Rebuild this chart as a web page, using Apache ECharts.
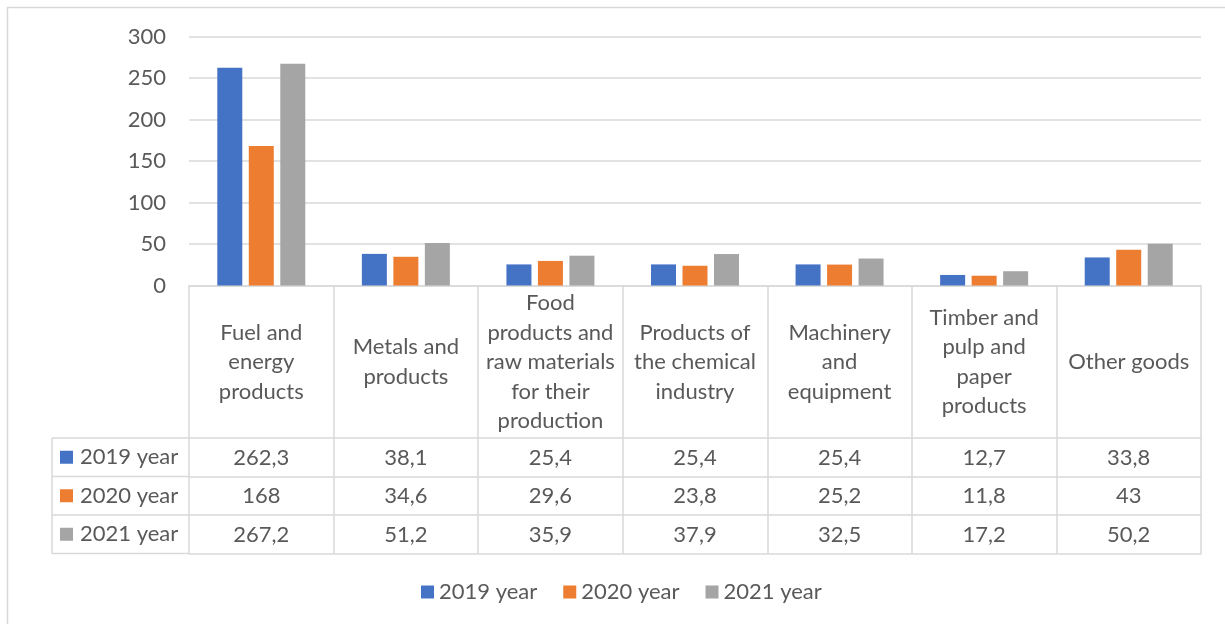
<!DOCTYPE html>
<html>
<head>
<meta charset="utf-8">
<script src="https://cdn.jsdelivr.net/npm/echarts@6/dist/echarts.min.js"></script>
<style>html,body{margin:0;padding:0;background:#fff;}#c{width:1225px;height:624px;}</style>
</head>
<body>
<div id="c"></div>
<script>
const categories = [
  'Fuel and\nenergy\nproducts',
  'Metals and\nproducts',
  'Food\nproducts and\nraw materials\nfor their\nproduction',
  'Products of\nthe chemical\nindustry',
  'Machinery\nand\nequipment',
  'Timber and\npulp and\npaper\nproducts',
  'Other goods'
];
const seriesNames = ['2019 year', '2020 year', '2021 year'];
const values2019 = [262.3, 38.1, 25.4, 25.4, 25.4, 12.7, 33.8];
const values2020 = [168, 34.6, 29.6, 23.8, 25.2, 11.8, 43];
const values2021 = [267.2, 51.2, 35.9, 37.9, 32.5, 17.2, 50.2];
const yTicks = { min: 0, max: 300, interval: 50 };

const colors = ['#4472C4', '#ED7D31', '#A5A5A5'];
const rows = [values2019, values2020, values2021];
const FONT = 'Lato';
const TXT = '#595959';
const LINE = '#d9d9d9';
const LW = 1.5;
const FS = 22;

// layout
const plotLeft = 189, plotRight = 1201, plotTop = 36.5, plotBottom = 285.5;
const rowTops = [438, 476.5, 515];
const tableBottom = 553.5;
const tableLeft = 52;
const fmt = v => String(v).replace('.', ',');

const grids = [{ left: plotLeft, right: 1225 - plotRight, top: plotTop, height: plotBottom - plotTop }];
const xAxes = [{
  type: 'category', data: categories, gridIndex: 0,
  axisLine: { lineStyle: { color: LINE, width: LW } },
  axisTick: { show: true, interval: 0, length: tableBottom - plotBottom, lineStyle: { color: LINE, width: LW } },
  axisLabel: { interval: 0, margin: 76.5, verticalAlign: 'middle', lineHeight: 29.5, fontSize: FS, color: TXT, fontFamily: FONT }
}];
const yAxes = [{
  type: 'value', gridIndex: 0, min: yTicks.min, max: yTicks.max, interval: yTicks.interval,
  axisLine: { show: false }, axisTick: { show: false },
  splitLine: { lineStyle: { color: LINE, width: LW } },
  axisLabel: { margin: 23, fontSize: FS, color: TXT, fontFamily: FONT }
}];
const lineYs = rowTops.concat([tableBottom]);
lineYs.forEach((y, k) => {
  grids.push({ left: plotLeft, right: 1225 - plotRight, top: y - 5, height: 5 });
  xAxes.push({
    type: 'category', data: categories, gridIndex: k + 1,
    axisLine: { lineStyle: { color: LINE, width: LW } },
    axisTick: { show: false },
    axisLabel: k < 3 ? {
      interval: 0, margin: 19.5, verticalAlign: 'middle', fontSize: FS, color: TXT, fontFamily: FONT,
      formatter: (v, i) => fmt(rows[k][i])
    } : { show: false }
  });
  yAxes.push({ type: 'value', gridIndex: k + 1, show: false });
});

const graphics = [];
// outer chart border (top and left visible)
graphics.push({ type: 'polyline', shape: { points: [[1225, 7.5], [7.5, 7.5], [7.5, 624]] }, style: { stroke: LINE, lineWidth: LW, fill: null }, silent: true });
// left column of table
lineYs.forEach(y => {
  graphics.push({ type: 'line', shape: { x1: tableLeft, y1: y, x2: plotLeft, y2: y }, style: { stroke: LINE, lineWidth: LW }, silent: true });
});
graphics.push({ type: 'line', shape: { x1: tableLeft, y1: rowTops[0], x2: tableLeft, y2: tableBottom }, style: { stroke: LINE, lineWidth: LW }, silent: true });
seriesNames.forEach((n, k) => {
  const top = rowTops[k];
  const bot = k < 2 ? rowTops[k + 1] : tableBottom;
  const cy = (top + bot) / 2;
  graphics.push({ type: 'rect', shape: { x: 60, y: cy - 6.5, width: 13, height: 13 }, style: { fill: colors[k] }, silent: true });
  graphics.push({ type: 'text', x: 80, y: cy, style: { text: n, fontSize: FS, fontFamily: FONT, fill: TXT, verticalAlign: 'middle', align: 'left' }, silent: true });
});

const series = seriesNames.map((n, k) => ({
  name: n, type: 'bar', xAxisIndex: 0, yAxisIndex: 0,
  data: rows[k], barWidth: 25, barGap: '26%',
  itemStyle: { color: colors[k] }
}));

const chart = echarts.init(document.getElementById('c'));
chart.setOption({
  animation: false,
  backgroundColor: '#fff',
  textStyle: { fontFamily: FONT },
  grid: grids, xAxis: xAxes, yAxis: yAxes,
  legend: {
    data: seriesNames, top: 576, left: 416, icon: 'rect', itemWidth: 13, itemHeight: 13, itemGap: 26,
    textStyle: { fontSize: FS, color: TXT, fontFamily: FONT }
  },
  graphic: graphics,
  series: series
});
</script>
</body>
</html>
